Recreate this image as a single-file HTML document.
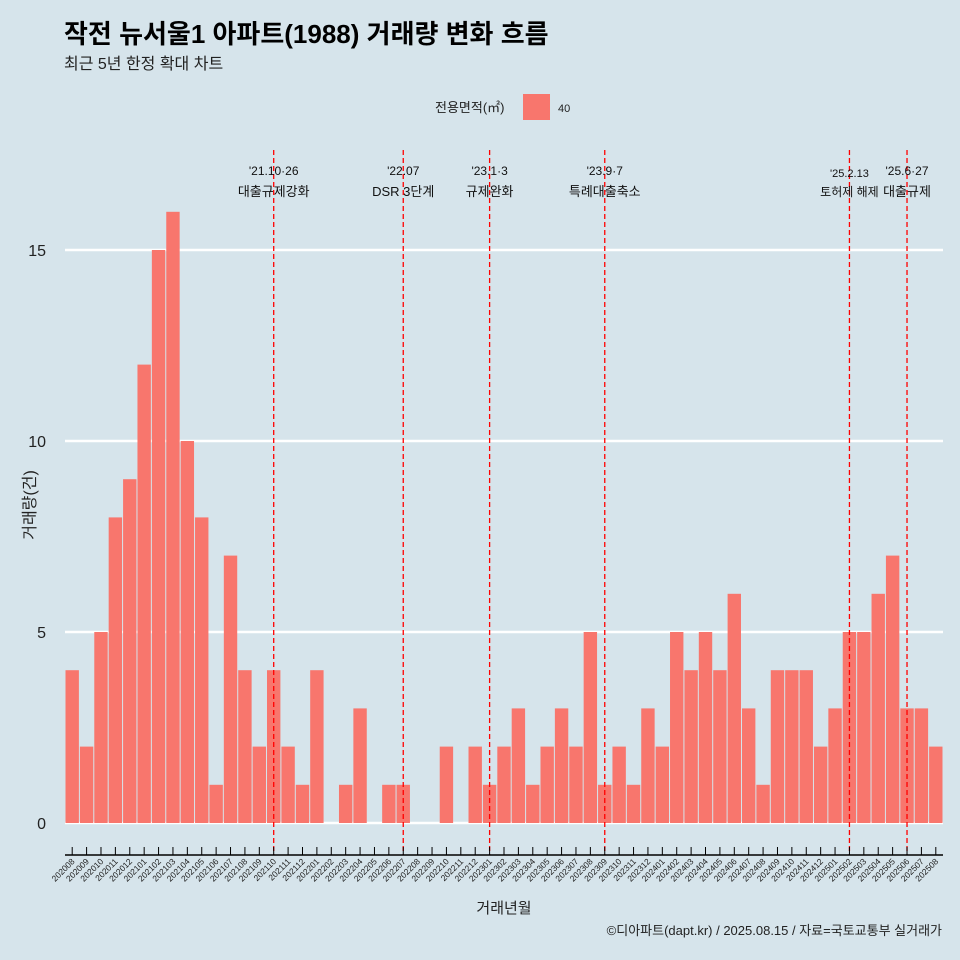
<!DOCTYPE html>
<html><head><meta charset="utf-8">
<style>
body{margin:0;background:#d6e4eb;font-family:"Liberation Sans","Noto Sans CJK KR",sans-serif;}
svg{display:block}
</style></head>
<body>
<svg id="chart" width="960" height="960" viewBox="0 0 960 960">
<rect width="960" height="960" fill="#d6e4eb"/>
<text x="64" y="43" font-size="26" font-weight="bold" fill="#000">작전 뉴서울1 아파트(1988) 거래량 변화 흐름</text>
<text x="64" y="69" font-size="16" fill="#222">최근 5년 한정 확대 차트</text>
<g>
<text x="435" y="112" font-size="13" fill="#222">전용면적(㎡)</text>
<rect x="523" y="94" width="27" height="26" fill="#f8766d"/>
<text x="558" y="112" font-size="11" fill="#222">40</text>
</g>
<g id="grid"></g><g id="bars"></g><g id="events"></g><g id="xaxis"></g><g id="yaxis"></g>
<text x="0" y="0" transform="translate(35,505) rotate(-90)" text-anchor="middle" font-size="16" fill="#222">거래량(건)</text>
<text x="504" y="913" text-anchor="middle" font-size="15" fill="#222">거래년월</text>
<text x="942" y="935" text-anchor="end" font-size="13" fill="#222">©디아파트(dapt.kr) / 2025.08.15 / 자료=국토교통부 실거래가</text>
</svg>
<script>
const months=["202008","202009","202010","202011","202012","202101","202102","202103","202104","202105","202106","202107","202108","202109","202110","202111","202112","202201","202202","202203","202204","202205","202206","202207","202208","202209","202210","202211","202212","202301","202302","202303","202304","202305","202306","202307","202308","202309","202310","202311","202312","202401","202402","202403","202404","202405","202406","202407","202408","202409","202410","202411","202412","202501","202502","202503","202504","202505","202506","202507","202508"];
const counts=[4,2,5,8,9,12,15,16,10,8,1,7,4,2,4,2,1,4,0,1,3,0,1,1,0,0,2,0,2,1,2,3,1,2,3,2,5,1,2,1,3,2,5,4,5,4,6,3,1,4,4,4,2,3,5,5,6,7,3,3,2];
const yTicks=[0,5,10,15];
const eventMonths=["202110","202207","202301","202309","202502","202506"];
const eventDates=["'21.10·26","'22.07","'23.1·3","'23.9·7","'25.2.13","'25.6·27"];
const eventNames=["대출규제강화","DSR 3단계","규제완화","특례대출축소","토허제 해제","대출규제"];
const NS="http://www.w3.org/2000/svg";
const x0=65,x1=943,y0=823,pxPer=38.2;
const step=(x1-x0)/months.length;
const xc=i=>x0+step*(i+0.5);
const y=v=>y0-v*pxPer;
function mk(tag,attrs,parent,text){const e=document.createElementNS(NS,tag);for(const k in attrs)e.setAttribute(k,attrs[k]);if(text!==undefined)e.textContent=text;parent.appendChild(e);return e;}
const grid=document.getElementById('grid'),yax=document.getElementById('yaxis');
yTicks.forEach(t=>{
 const l=mk('line',{x1:x0,x2:x1,y1:y(t),y2:y(t),stroke:'#fff','stroke-width':2.5},grid);
 
 
 const tx=mk('text',{x:46,y:y(t)+6,'text-anchor':'end','font-size':16,fill:'#222'},yax,String(t));
 
 
});
const bars=document.getElementById('bars'),xax=document.getElementById('xaxis');
const axl=mk('line',{x1:x0,x2:x1,y1:855,y2:855,stroke:'#000','stroke-width':1.5},xax);


months.forEach((m,i)=>{
 const v=counts[i];
 if(v>0){
  const r=mk('rect',{x:xc(i)-step/2+0.5,y:y(v),width:step-1,height:v*pxPer,fill:'#f8766d'},bars);
  
  
 }
 const tk=mk('line',{x1:xc(i),x2:xc(i),y1:847,y2:855,stroke:'#000','stroke-width':1},xax);
 
 
 const lb=mk('text',{x:0,y:0,transform:`translate(${xc(i)+3},${862}) rotate(-45)`,'text-anchor':'end','font-size':8.5,fill:'#222'},xax,m);
 
 
});
const ev=document.getElementById('events');
eventMonths.forEach((m,k)=>{
 const i=months.indexOf(m),x=xc(i);
 const l=mk('line',{x1:x,x2:x,y1:150,y2:855,stroke:'#ff0000','stroke-width':1.3,'stroke-dasharray':'5,3'},ev);
 
 
 const small=(m==="202502");
 const d=mk('text',{x:x,y:small?177:175,'text-anchor':'middle','font-size':small?11:12,fill:'#111'},ev,eventDates[k]);
 
 
 const n=mk('text',{x:x,y:196,'text-anchor':'middle','font-size':small?12:13,fill:'#111'},ev,eventNames[k]);
 
 
});
</script>
</body></html>
